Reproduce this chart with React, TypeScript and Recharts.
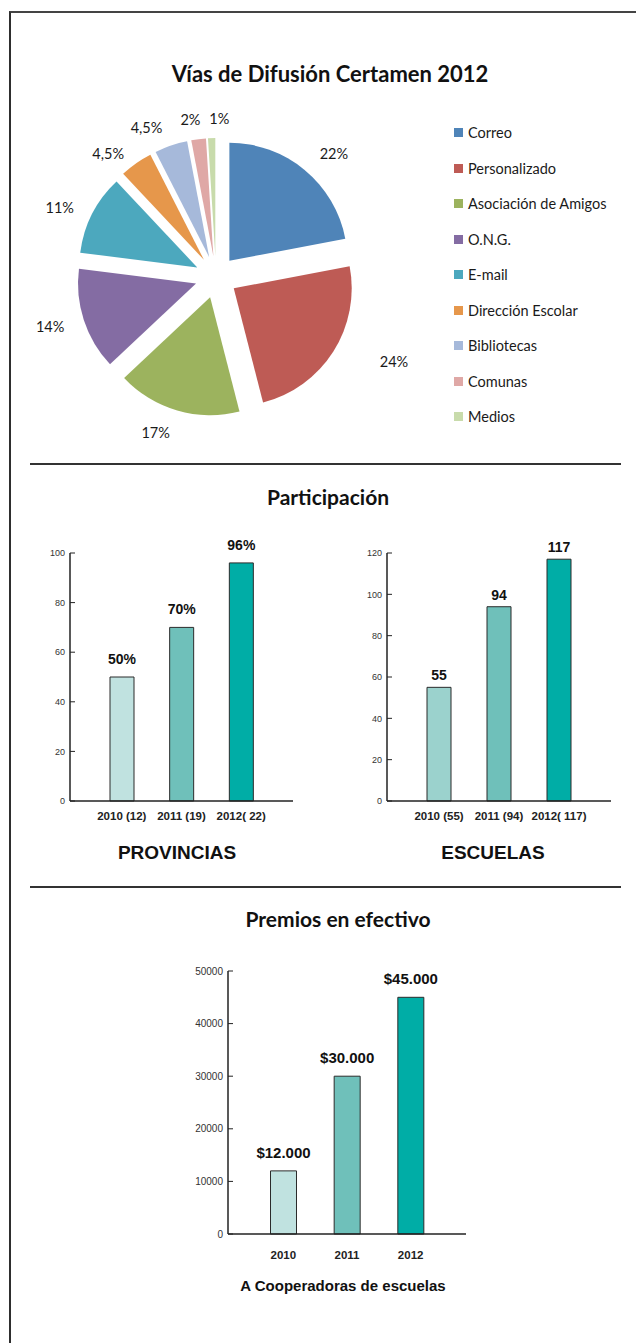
import React from 'react';
import { PieChart, Pie, Sector, Legend, BarChart, Bar, XAxis, YAxis, LabelList, Cell } from 'recharts';

// --- Vías de difusión (pie) ---
const difusionNames = ['Correo', 'Personalizado', 'Asociación de Amigos', 'O.N.G.', 'E-mail', 'Dirección Escolar', 'Bibliotecas', 'Comunas', 'Medios'];
const difusionValues = [22, 24, 17, 14, 11, 4.5, 4.5, 2, 1];
const difusionLabels = ['22%', '24%', '17%', '14%', '11%', '4,5%', '4,5%', '2%', '1%'];

// --- Participación: provincias ---
const provinciasYears = ['2010 (12)', '2011 (19)', '2012( 22)'];
const provinciasValues = [50, 70, 96];
const provinciasLabels = ['50%', '70%', '96%'];
const provinciasTicks = [0, 20, 40, 60, 80, 100];

// --- Participación: escuelas ---
const escuelasYears = ['2010 (55)', '2011 (94)', '2012( 117)'];
const escuelasValues = [55, 94, 117];
const escuelasLabels = ['55', '94', '117'];
const escuelasTicks = [0, 20, 40, 60, 80, 100, 120];

// --- Premios en efectivo ---
const premiosYears = ['2010', '2011', '2012'];
const premiosValues = [12000, 30000, 45000];
const premiosLabels = ['$12.000', '$30.000', '$45.000'];
const premiosTicks = [0, 10000, 20000, 30000, 40000, 50000];

const pieColors = ['#4F84B8', '#BE5B55', '#9CB35E', '#846CA3', '#4CA8BE', '#E6974B', '#A6B9DA', '#DFA8A6', '#C8DBAB'];
const tealLight = ['#C0E2E0', '#6FC0BA', '#00ADA6'];
const tealEscuelas = ['#9BD2CD', '#6FC0BA', '#00ADA6'];

const TITLE_FONT = 'Lato, "Open Sans", sans-serif';
const ARIAL = '"Liberation Sans", Arial, sans-serif';

const RAD = Math.PI / 180;
const EXPLODE = 21;
// label distance beyond the slice edge and small angle nudges (Excel best-fit look)
const labelGap = [53, 79, 49, 55, 53, 46, 47, 42, 41];
const labelTurn = [-4, 7, -5, -1.5, 3, 6, 6, 2, -3];

const pieData = difusionNames.map((name, i) => ({ name, value: difusionValues[i], label: difusionLabels[i], fill: pieColors[i] }));

const ExplodedSector = (props: any) => {
  const { cx, cy, midAngle, innerRadius, outerRadius, startAngle, endAngle, fill } = props;
  const dx = EXPLODE * Math.cos(-midAngle * RAD);
  const dy = EXPLODE * Math.sin(-midAngle * RAD);
  return (
    <Sector cx={cx + dx} cy={cy + dy} innerRadius={innerRadius} outerRadius={outerRadius}
      startAngle={startAngle} endAngle={endAngle} fill={fill} stroke="none" />
  );
};

const renderPieLabel = (props: any) => {
  const { cx, cy, midAngle, outerRadius, index } = props;
  const r = outerRadius + labelGap[index];
  const a = (midAngle + labelTurn[index]) * RAD;
  return (
    <text x={cx + r * Math.cos(-a)} y={cy + r * Math.sin(-a)} textAnchor="middle" dominantBaseline="central"
      fontFamily={TITLE_FONT} fontSize={14.5} fill="#1a1a1a">
      {pieData[index].label}
    </text>
  );
};

// legend keeps the slice order instead of sorting by name
const PieLegend = ({ payload }: any) => {
  const items = [...(payload || [])].sort((a: any, b: any) => difusionNames.indexOf(a.value) - difusionNames.indexOf(b.value));
  return (
    <div style={{ fontFamily: TITLE_FONT, fontSize: 14.5, color: '#1a1a1a' }}>
      {items.map((p: any, i: number) => (
        <div key={i} style={{ display: 'flex', alignItems: 'center', height: 35.5, whiteSpace: 'nowrap' }}>
          <span style={{ display: 'inline-block', width: 9, height: 9, background: p.color, marginRight: 5 }} />
          <span>{p.value}</span>
        </div>
      ))}
    </div>
  );
};

const Center = ({ x, y, children, style }: any) => (
  <div style={{ position: 'absolute', left: x, top: y, transform: 'translate(-50%, -50%)', whiteSpace: 'nowrap', ...style }}>
    {children}
  </div>
);

const titleStyle = { fontFamily: TITLE_FONT, fontWeight: 700, fontSize: 21, color: '#111' };
const captionStyle = { fontFamily: ARIAL, fontWeight: 700, fontSize: 19, color: '#111' };

interface ColumnProps {
  left: number; top: number; width: number; height: number;
  years: string[]; values: number[]; labels: string[]; ticks: number[];
  colors: string[]; barSize: number; pad: number; labelOffset: number;
  labelSize: number; yFont: number; xFont: number; xMargin: number;
}

// the plot area starts 30px below `top`, leaving room for the value labels
const ColumnChart = ({ left, top, width, height, years, values, labels, ticks, colors, barSize, pad, labelOffset, labelSize, yFont, xFont, xMargin }: ColumnProps) => {
  const data = years.map((year, i) => ({ year, value: values[i], label: labels[i] }));
  return (
    <div style={{ position: 'absolute', left, top }}>
      <BarChart width={width} height={height} data={data} margin={{ top: 30, right: 10, bottom: 0, left: 0 }}>
        <XAxis dataKey="year" interval={0} height={30} padding={{ left: pad, right: pad }}
          axisLine={{ stroke: '#222', strokeWidth: 1.5 }} tickLine={false} tickMargin={xMargin}
          tick={{ fontSize: xFont, fontWeight: 700, fill: '#222', fontFamily: ARIAL }} />
        <YAxis width={50} ticks={ticks} domain={[0, ticks[ticks.length - 1]]} interval={0}
          axisLine={{ stroke: '#222', strokeWidth: 1.5 }} tickLine={{ stroke: '#222' }} tickSize={-5} tickMargin={10}
          tick={{ fontSize: yFont, fill: '#333', fontFamily: ARIAL }} />
        <Bar dataKey="value" barSize={barSize} stroke="#2b2b2b" strokeWidth={1} isAnimationActive={false}>
          {data.map((_, i) => <Cell key={i} fill={colors[i]} />)}
          <LabelList dataKey="label" position="top" offset={labelOffset}
            style={{ fontFamily: ARIAL, fontWeight: 700, fontSize: labelSize, fill: '#111' }} />
        </Bar>
      </BarChart>
    </div>
  );
};

export default function App() {
  return (
    <div style={{ position: 'fixed', left: 0, top: 0, width: 636, height: 1343, overflow: 'hidden', background: '#fff' }}>
      <div style={{ position: 'absolute', left: 9, top: 11, width: 700, height: 1400, borderLeft: '2px solid #2e2e2e', borderTop: '2px solid #444' }} />

      <Center x={330} y={73} style={{ ...titleStyle, fontSize: 22 }}>Vías de Difusión Certamen 2012</Center>

      <div style={{ position: 'absolute', left: 0, top: 100 }}>
        <PieChart width={636} height={360} margin={{ top: 0, right: 0, bottom: 0, left: 0 }}>
          <Pie data={pieData} dataKey="value" nameKey="name" cx={216} cy={177} outerRadius={118}
            startAngle={90} endAngle={-270} stroke="none" isAnimationActive={false}
            shape={ExplodedSector} activeShape={ExplodedSector} inactiveShape={ExplodedSector}
            label={renderPieLabel} labelLine={false}>
            {pieData.map((d, i) => <Cell key={i} fill={d.fill} />)}
          </Pie>
          <Legend layout="vertical" align="right" verticalAlign="top" content={<PieLegend />}
            wrapperStyle={{ left: 454, top: 15, width: 180 }} />
        </PieChart>
      </div>

      <div style={{ position: 'absolute', left: 30, top: 463, width: 591, height: 2, background: '#333' }} />
      <Center x={328} y={496} style={titleStyle}>Participación</Center>

      <ColumnChart left={20} top={523} width={283} height={308} years={provinciasYears} values={provinciasValues}
        labels={provinciasLabels} ticks={provinciasTicks} colors={tealLight} barSize={24} pad={22}
        labelOffset={13} labelSize={14} yFont={9} xFont={11.5} xMargin={5} />
      <Center x={177} y={853} style={captionStyle}>PROVINCIAS</Center>

      <ColumnChart left={337} top={523} width={284} height={308} years={escuelasYears} values={escuelasValues}
        labels={escuelasLabels} ticks={escuelasTicks} colors={tealEscuelas} barSize={24} pad={22}
        labelOffset={7} labelSize={14} yFont={9} xFont={11.5} xMargin={5} />
      <Center x={493} y={853} style={captionStyle}>ESCUELAS</Center>

      <div style={{ position: 'absolute', left: 30, top: 886, width: 591, height: 2, background: '#333' }} />
      <Center x={338} y={918} style={titleStyle}>Premios en efectivo</Center>

      <ColumnChart left={178} top={941} width={298} height={323} years={premiosYears} values={premiosValues}
        labels={premiosLabels} ticks={premiosTicks} colors={tealLight} barSize={26} pad={23.5}
        labelOffset={13} labelSize={15} yFont={10} xFont={11.5} xMargin={11} />
      <Center x={343} y={1285} style={{ ...captionStyle, fontSize: 15 }}>A Cooperadoras de escuelas</Center>
    </div>
  );
}
